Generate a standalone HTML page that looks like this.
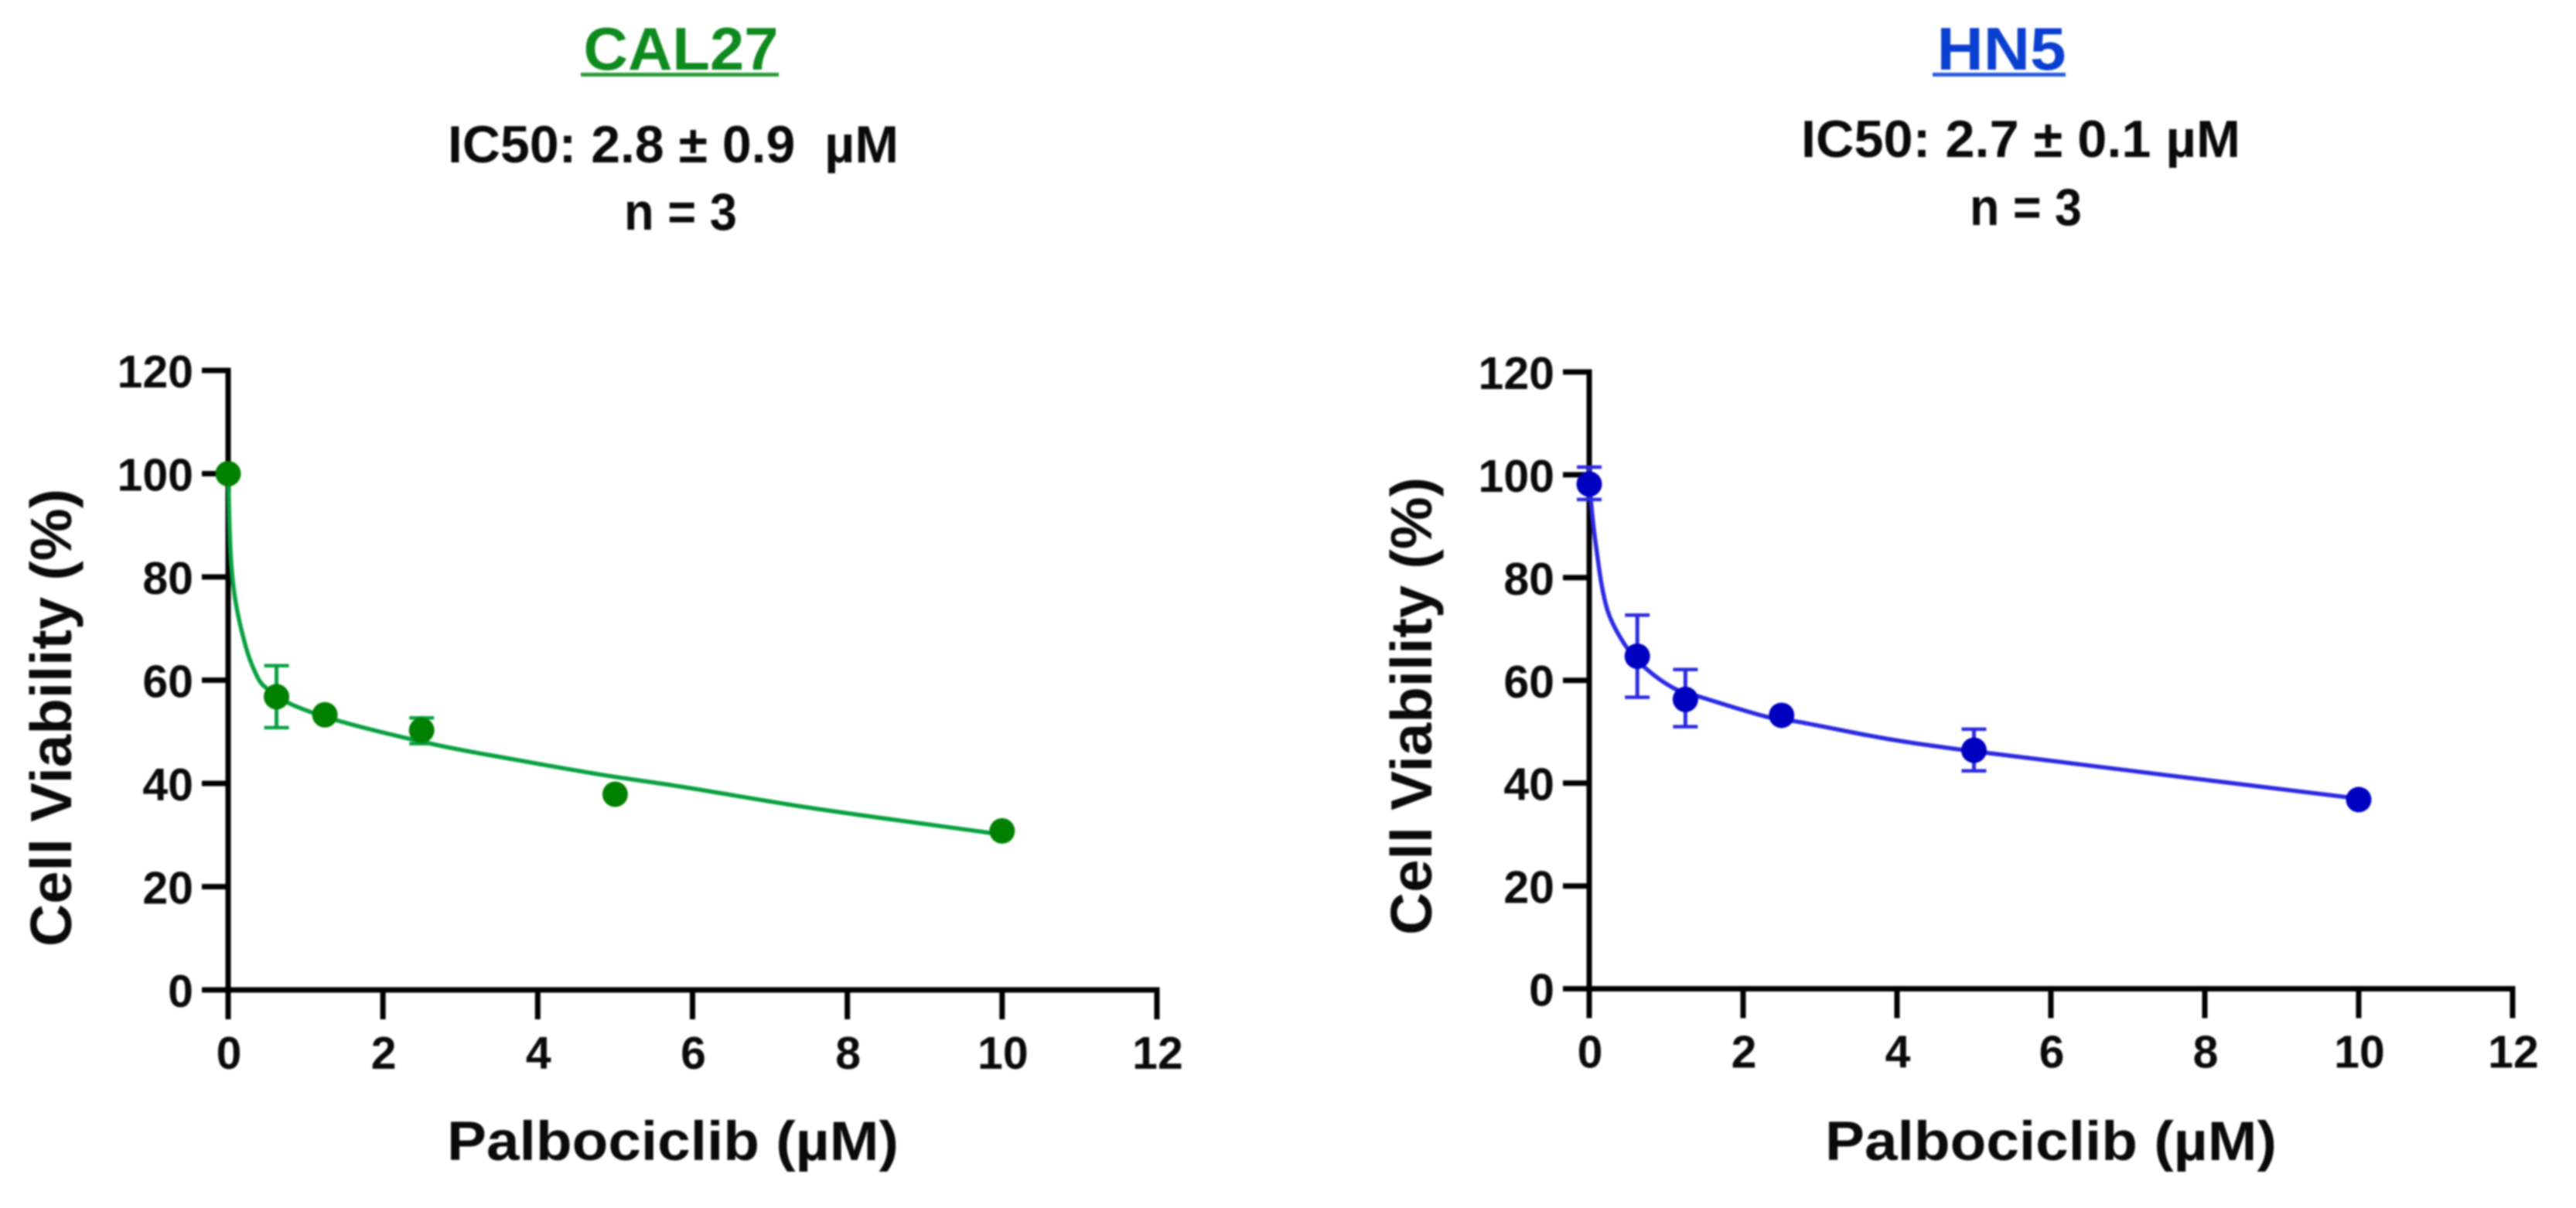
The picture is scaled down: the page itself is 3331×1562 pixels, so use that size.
<!DOCTYPE html>
<html lang="en">
<head>
<meta charset="utf-8">
<title>Palbociclib dose-response curves: CAL27 and HN5</title>
<style>
html,body{margin:0;padding:0;background:#fff;width:3331px;height:1562px;overflow:hidden}
svg{display:block;filter:blur(1.1px)}
text{font-family:"Liberation Sans",sans-serif;font-weight:700;fill:#0a0a0a;white-space:pre}
</style>
</head>
<body>
<svg id="figure" xmlns="http://www.w3.org/2000/svg" width="3331" height="1562" viewBox="0 0 3331 1562">
  <rect x="0" y="0" width="3331" height="1562" fill="#fff"/>

  <text x="880.5" y="90" text-anchor="middle" font-size="78" textLength="252" lengthAdjust="spacingAndGlyphs" style="fill:#0f8a1f">CAL27</text>
  <rect x="751" y="94" width="256" height="5" fill="#2a9a3a"/>
  <text x="579" y="210" font-size="68" textLength="583" lengthAdjust="spacingAndGlyphs">IC50: 2.8 ± 0.9  µM</text>
  <text x="807" y="297" font-size="68" textLength="146" lengthAdjust="spacingAndGlyphs">n = 3</text>

  <text x="2588" y="90" text-anchor="middle" font-size="78" textLength="167" lengthAdjust="spacingAndGlyphs" style="fill:#0a3fd0">HN5</text>
  <rect x="2499" y="94" width="172" height="5" fill="#2a5ae0"/>
  <text x="2329" y="203" font-size="68" textLength="568" lengthAdjust="spacingAndGlyphs">IC50: 2.7 ± 0.1 µM</text>
  <text x="2547" y="291" font-size="68" textLength="145" lengthAdjust="spacingAndGlyphs">n = 3</text>
</svg>
<script>
// Shared axis labels
const xTickLabels = [0, 2, 4, 6, 8, 10, 12];
const yTickLabels = [0, 20, 40, 60, 80, 100, 120];
const doses = [0, 0.625, 1.25, 2.5, 5, 10];

// CAL27 values
const cal27Means = [100, 56.8, 53.3, 50.3, 37.9, 30.8];
const cal27ErrHigh = [100, 62.8, 53.3, 52.7, 37.9, 30.8];
const cal27ErrLow = [100, 50.8, 53.3, 47.7, 37.9, 30.8];
const cal27CurveDose = [0, 0.035, 0.10, 0.23, 0.35, 0.46, 0.806, 1.455, 2.68, 3.67, 4.82, 5.84, 7.55, 10];
const cal27CurveViability = [100, 83.7, 74.9, 66.4, 61.5, 58.9, 55.4, 52, 47.5, 44.7, 41.7, 39.4, 35.2, 30.1];

// HN5 values
const hn5Means = [98.2, 64.7, 56.3, 53.2, 46.4, 36.8];
const hn5ErrHigh = [101.5, 72.7, 62.1, 53.2, 50.5, 36.8];
const hn5ErrLow = [95.2, 56.7, 51, 53.2, 42.4, 36.8];
const hn5CurveDose = [0, 0.08, 0.23, 0.46, 0.73, 1.11, 1.46, 2.31, 2.73, 3.88, 4.84, 5.87, 7.37, 10];
const hn5CurveViability = [98.2, 87, 74, 67, 62.4, 58.4, 56.7, 52.9, 51.9, 48.6, 46.5, 44.6, 41.8, 37];

const SVGNS = 'http://www.w3.org/2000/svg';
const figure = document.getElementById('figure');

function make(parent, tag, attrs) {
  const el = document.createElementNS(SVGNS, tag);
  for (const k in attrs) el.setAttribute(k, attrs[k]);
  parent.appendChild(el);
  return el;
}

// Chord-length spline: tangents scale with segment length so uneven spacing does not kink.
function splinePath(xs, ys) {
  const n = xs.length;
  const seg = [];
  for (let i = 0; i < n - 1; i++) seg.push(Math.hypot(xs[i + 1] - xs[i], ys[i + 1] - ys[i]) || 1);
  const tx = [], ty = [];
  for (let i = 0; i < n; i++) {
    const a = Math.max(i - 1, 0), b = Math.min(i + 1, n - 1);
    let span = 0;
    for (let k = a; k < b; k++) span += seg[k];
    tx.push((xs[b] - xs[a]) / span);
    ty.push((ys[b] - ys[a]) / span);
  }
  let d = 'M' + xs[0].toFixed(1) + ' ' + ys[0].toFixed(1);
  for (let i = 0; i < n - 1; i++) {
    const h = seg[i] / 3;
    d += 'C' + (xs[i] + tx[i] * h).toFixed(1) + ' ' + (ys[i] + ty[i] * h).toFixed(1) + ' ' +
         (xs[i + 1] - tx[i + 1] * h).toFixed(1) + ' ' + (ys[i + 1] - ty[i + 1] * h).toFixed(1) + ' ' +
         xs[i + 1].toFixed(1) + ' ' + ys[i + 1].toFixed(1);
  }
  return d;
}

function drawChart(cfg) {
  const xScale = v => cfg.x0 + (v / 12) * (cfg.x12 - cfg.x0);
  const yScale = v => cfg.y0 + (v / 120) * (cfg.y120 - cfg.y0);
  const g = make(figure, 'g', {});
  
  

  const yAxis = make(g, 'line', {x1: xScale(0), x2: xScale(0), y1: yScale(120) - 3.5, y2: yScale(0) + 38, stroke: '#000', 'stroke-width': 7});
  
  
  const xAxis = make(g, 'line', {x1: xScale(0) - 34, x2: xScale(12) + 3.5, y1: yScale(0), y2: yScale(0), stroke: '#000', 'stroke-width': 7});
  
  

  yTickLabels.forEach(v => {
    const tick = make(g, 'line', {x1: xScale(0) - 34, x2: xScale(0), y1: yScale(v), y2: yScale(v), stroke: '#000', 'stroke-width': 7});
    
    
    const label = make(g, 'text', {x: xScale(0) - 45, y: yScale(v) + 22, 'text-anchor': 'end', 'font-size': 59});
    
    
    label.textContent = v;
  });

  xTickLabels.forEach(v => {
    const tick = make(g, 'line', {x1: xScale(v), x2: xScale(v), y1: yScale(0), y2: yScale(0) + 38, stroke: '#000', 'stroke-width': 7});
    
    
    const label = make(g, 'text', {x: xScale(v) + 1, y: yScale(0) + 102, 'text-anchor': 'middle', 'font-size': 59});
    
    
    label.textContent = v;
  });

  const yTitle = make(g, 'text', {transform: 'translate(' + cfg.yTitleX + ' ' + cfg.yTitleY + ') rotate(-90)', 'text-anchor': 'middle', 'font-size': 75, textLength: 592, lengthAdjust: 'spacingAndGlyphs'});
  
  
  yTitle.textContent = 'Cell Viability (%)';

  const xTitle = make(g, 'text', {x: cfg.xTitleX, y: 1500, 'font-size': 71, textLength: 584, lengthAdjust: 'spacingAndGlyphs'});
  
  
  xTitle.textContent = 'Palbociclib (µM)';

  const curve = make(g, 'path', {d: splinePath(cfg.curveDose.map(xScale), cfg.curveViability.map(yScale)), fill: 'none', stroke: cfg.lineColor, 'stroke-width': 5.5, 'stroke-linejoin': 'round'});
  
  

  doses.forEach((dose, i) => {
    const px = xScale(dose);
    if (cfg.errHigh[i] !== cfg.means[i] || cfg.errLow[i] !== cfg.means[i]) {
      const stem = make(g, 'line', {x1: px, x2: px, y1: yScale(cfg.errHigh[i]), y2: yScale(cfg.errLow[i]), stroke: cfg.lineColor, 'stroke-width': 5});
      
      
      [cfg.errHigh[i], cfg.errLow[i]].forEach(v => {
        const cap = make(g, 'line', {x1: px - 16, x2: px + 16, y1: yScale(v), y2: yScale(v), stroke: cfg.lineColor, 'stroke-width': 4.5});
        
        
      });
    }
    const dot = make(g, 'circle', {cx: px, cy: yScale(cfg.means[i]), r: 16.5, fill: cfg.dotColor});
    
    
  });
}

drawChart({
  id: 'cal27', x0: 295, x12: 1496, y0: 1280, y120: 479,
  yTitleX: 92, yTitleY: 928, xTitleX: 578,
  lineColor: '#08a040', dotColor: '#008000',
  means: cal27Means, errHigh: cal27ErrHigh, errLow: cal27ErrLow,
  curveDose: cal27CurveDose, curveViability: cal27CurveViability
});
drawChart({
  id: 'hn5', x0: 2055, x12: 3249, y0: 1278.5, y120: 481,
  yTitleX: 1851, yTitleY: 913, xTitleX: 2360,
  lineColor: '#2a2ae0', dotColor: '#0000c0',
  means: hn5Means, errHigh: hn5ErrHigh, errLow: hn5ErrLow,
  curveDose: hn5CurveDose, curveViability: hn5CurveViability
});
</script>
</body>
</html>
